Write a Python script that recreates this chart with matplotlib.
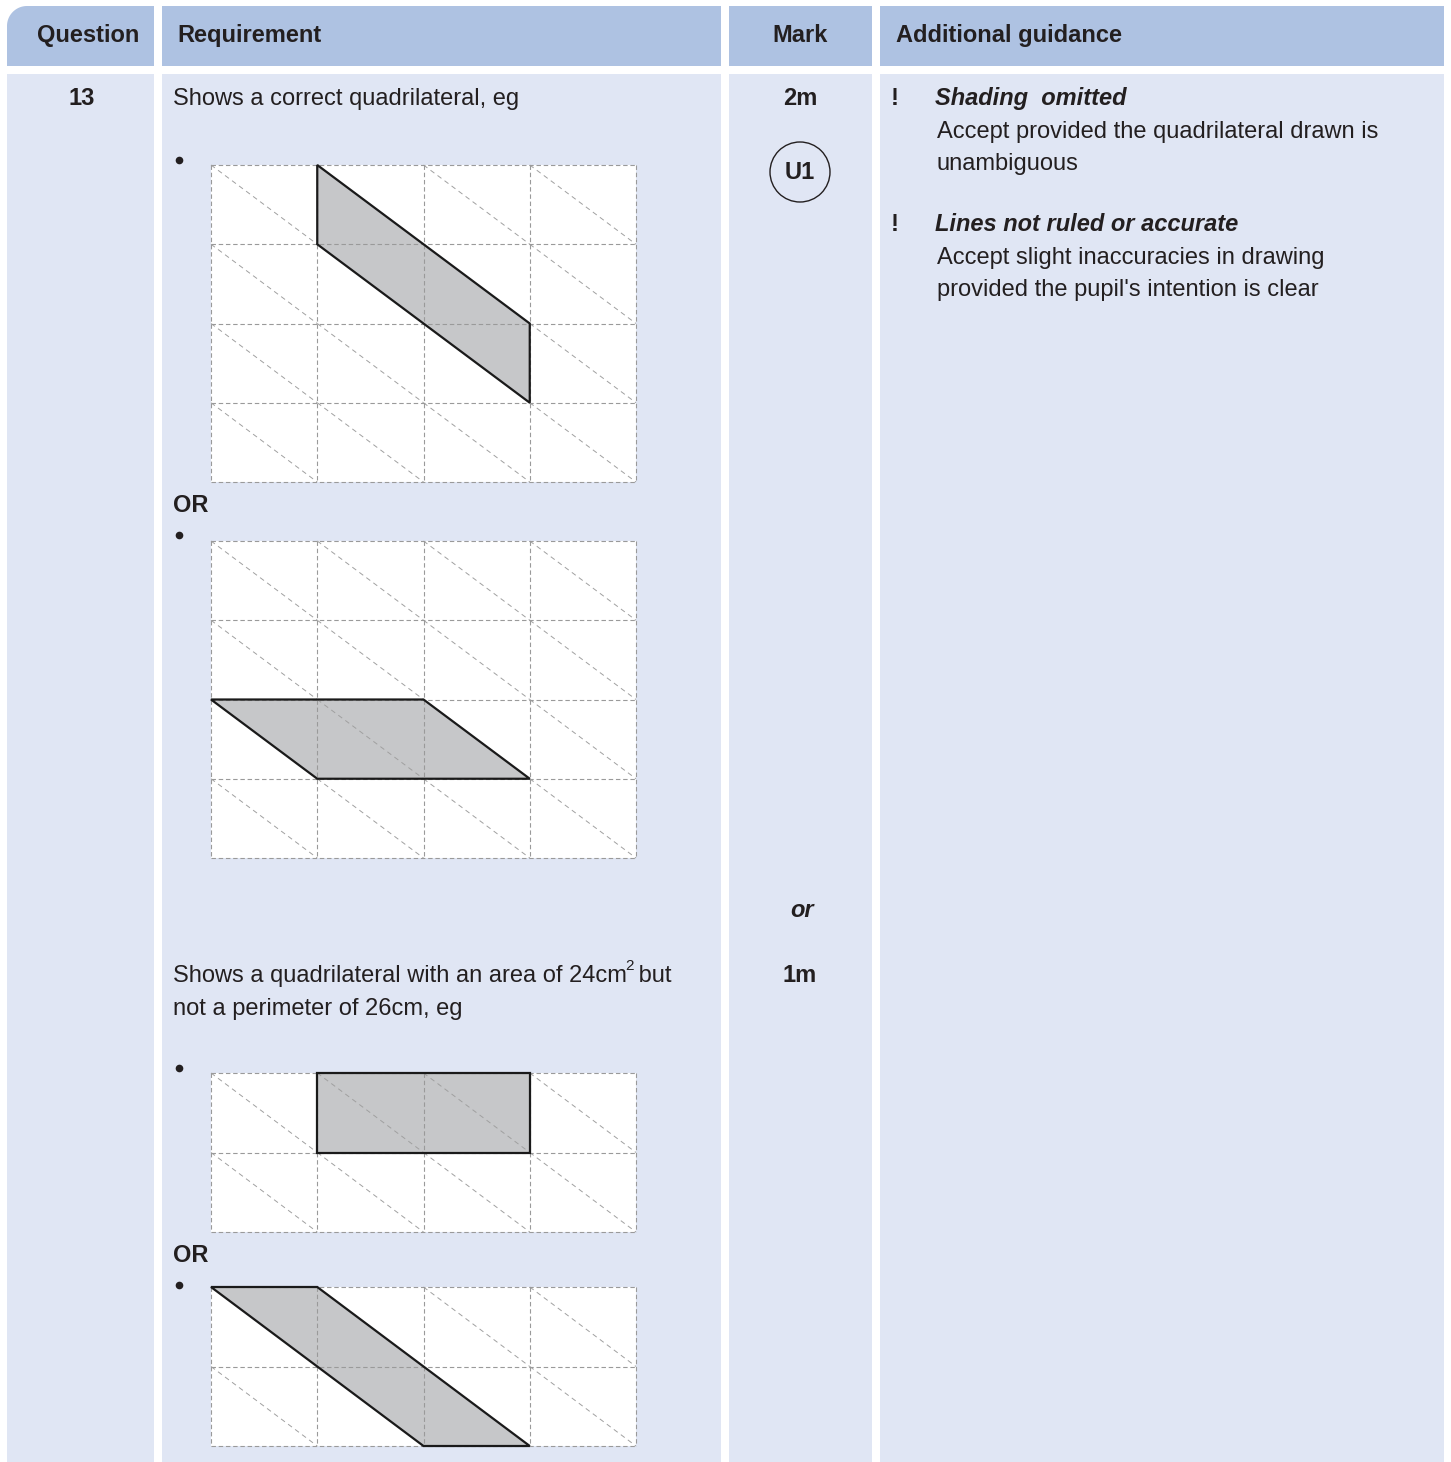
import numpy as np
import matplotlib
matplotlib.use("Agg")
import matplotlib.pyplot as plt
from matplotlib.patches import Rectangle, Polygon, Circle

plt.rcParams['font.family'] = ['Liberation Sans', 'DejaVu Sans']

# table layout (pixel units, y down)
col_edges = [(7, 154), (162, 721), (729, 872), (880, 1444)]
header_y = (6, 66)
body_y = (74, 1462)
headers = ['Question', 'Requirement', 'Mark', 'Additional guidance']
header_ha = ['center', 'left', 'center', 'left']

question = '13'
marks = ['2m', '1m']
or_mark = 'or'
code = 'U1'

req_1 = 'Shows a correct quadrilateral, eg'
req_2_lines = ['Shows a quadrilateral with an area of 24cm', 'not a perimeter of 26cm, eg']

guidance = [
    ('Shading  omitted', ['Accept provided the quadrilateral drawn is', 'unambiguous']),
    ('Lines not ruled or accurate', ['Accept slight inaccuracies in drawing',
                                     "provided the pupil's intention is clear"]),
]

# grids: (top, bottom, rows), shapes as (col, row) vertices in grid cells
grid_cols = 4
grids = [
    (165, 482, 4, [(1, 0), (1, 1), (3, 3), (3, 2)]),
    (541, 858, 4, [(0, 2), (2, 2), (3, 3), (1, 3)]),
    (1073, 1232, 2, [(1, 0), (3, 0), (3, 1), (1, 1)]),
    (1287, 1446, 2, [(0, 0), (1, 0), (3, 2), (2, 2)]),
]
grid_x = (211, 636)

HEAD = '#aec2e2'
BODY = '#e0e6f4'
INK = '#231f20'
FS = 17

fig = plt.figure(figsize=(14.51, 14.62), dpi=100)
ax = fig.add_axes([0, 0, 1, 1])
ax.set_xlim(0, 1451)
ax.set_ylim(1462, 0)
ax.axis('off')

# header cells (first one rounded at top-left)
for i, (x0, x1) in enumerate(col_edges):
    if i == 0:
        r = 20
        t = np.linspace(np.pi, 1.5 * np.pi, 24)
        arc = np.c_[x0 + r + r * np.cos(t), header_y[0] + r + r * np.sin(t)]
        pts = np.vstack([[x0, header_y[1]], arc, [x1, header_y[0]], [x1, header_y[1]]])
        ax.add_patch(Polygon(pts, closed=True, facecolor=HEAD, edgecolor='none'))
    else:
        ax.add_patch(Rectangle((x0, header_y[0]), x1 - x0, header_y[1] - header_y[0],
                               facecolor=HEAD, edgecolor='none'))
    ax.add_patch(Rectangle((x0, body_y[0]), x1 - x0, body_y[1] - body_y[0],
                           facecolor=BODY, edgecolor='none'))

hx = [88, 177, 800, 896]
for name, x, ha in zip(headers, hx, header_ha):
    ax.text(x, 42, name, ha=ha, va='baseline', fontsize=FS, fontweight='bold', color=INK)

# question number and marks
ax.text(82, 105, question, ha='center', va='baseline', fontsize=FS, fontweight='bold', color=INK)
ax.text(800, 105, marks[0], ha='center', va='baseline', fontsize=FS, fontweight='bold', color=INK)
ax.add_patch(Circle((800, 172), 30, facecolor='none', edgecolor=INK, lw=1.0))
ax.text(800, 179, code, ha='center', va='baseline', fontsize=FS, fontweight='bold', color=INK)
ax.text(802, 917, or_mark, ha='center', va='baseline', fontsize=FS, fontweight='bold',
        fontstyle='italic', color=INK)
ax.text(800, 982, marks[1], ha='center', va='baseline', fontsize=FS, fontweight='bold', color=INK)

# requirement text
ax.text(173, 105, req_1, ha='left', va='baseline', fontsize=FS, color=INK)
t1 = ax.text(173, 982, req_2_lines[0], ha='left', va='baseline', fontsize=FS, color=INK)
fig.canvas.draw()
bb = t1.get_window_extent().transformed(ax.transData.inverted())
xe = max(bb.x0, bb.x1)
sup = ax.text(xe - 2, 970, '2', ha='left', va='baseline', fontsize=11, color=INK)
fig.canvas.draw()
bb2 = sup.get_window_extent().transformed(ax.transData.inverted())
ax.text(max(bb2.x0, bb2.x1) - 1, 982, ' but', ha='left', va='baseline', fontsize=FS, color=INK)
ax.text(173, 1015, req_2_lines[1], ha='left', va='baseline', fontsize=FS, color=INK)

for y in [160, 535, 1068, 1285]:
    ax.plot([179], [y], marker='o', ms=5.5, color=INK, mec='none')
for y in [512, 1262]:
    ax.text(173, y, 'OR', ha='left', va='baseline', fontsize=FS, fontweight='bold', color=INK)

# guidance
for (title, lines), y0 in zip(guidance, [105, 231]):
    ax.text(891, y0, '!', ha='left', va='baseline', fontsize=FS, fontweight='bold', color=INK)
    ax.text(935, y0, title, ha='left', va='baseline', fontsize=FS, fontweight='bold',
            fontstyle='italic', color=INK)
    for k, line in enumerate(lines):
        ax.text(937, y0 + 33 + 32 * k, line, ha='left', va='baseline', fontsize=FS, color=INK)

# grids
for top, bot, rows, shape in grids:
    x0, x1 = grid_x
    cw = (x1 - x0) / grid_cols
    rh = (bot - top) / rows
    ax.add_patch(Rectangle((x0, top), x1 - x0, bot - top, facecolor='white', edgecolor='none', zorder=1))
    poly = [(x0 + c * cw, top + r * rh) for c, r in shape]
    ax.add_patch(Polygon(poly, closed=True, facecolor='#c6c7c9', edgecolor='none', zorder=2))
    for c in range(grid_cols):
        for r in range(rows):
            ax.plot([x0 + c * cw, x0 + (c + 1) * cw], [top + r * rh, top + (r + 1) * rh],
                    color='#a0a0a0', lw=0.7, ls=(0, (5, 4)), zorder=3)
    for c in range(grid_cols + 1):
        ax.plot([x0 + c * cw] * 2, [top, bot], color='#9a9a9a', lw=0.8, ls=(0, (4, 2.5)), zorder=3)
    for r in range(rows + 1):
        ax.plot([x0, x1], [top + r * rh] * 2, color='#9a9a9a', lw=0.8, ls=(0, (4, 2.5)), zorder=3)
    ax.add_patch(Polygon(poly, closed=True, facecolor='none', edgecolor='#1a1a1a', lw=1.6,
                         joinstyle='miter', zorder=4))

fig.savefig('out.png', dpi=100)
